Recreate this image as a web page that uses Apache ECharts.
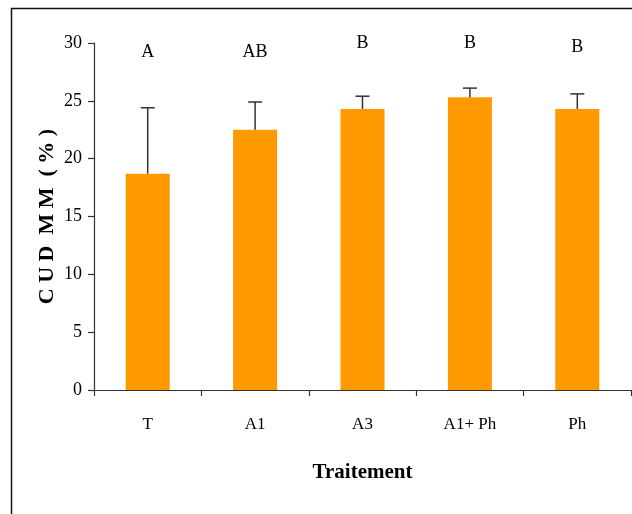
<!DOCTYPE html>
<html>
<head>
<meta charset="utf-8">
<script src="https://cdn.jsdelivr.net/npm/echarts@6/dist/echarts.min.js"></script>
<style>html,body{margin:0;padding:0;background:#fff;}#c{width:632px;height:514px;}</style>
</head>
<body>
<div id="c"></div>
<script>
const categories = ['T', 'A1', 'A3', 'A1+ Ph', 'Ph'];
const values = [18.7, 22.5, 24.3, 25.3, 24.3];
const errorTops = [24.4, 24.9, 25.4, 26.1, 25.6];
const letters = ['A', 'AB', 'B', 'B', 'B'];
const letterPos = [29.2, 29.2, 30.0, 30.0, 29.6];
const yTicks = [0, 5, 10, 15, 20, 25, 30];

const FONT = '"Liberation Serif", "Times New Roman", serif';
const chart = echarts.init(document.getElementById('c'), null, {renderer: 'canvas'});
chart.setOption({
  animation: false,
  backgroundColor: '#fff',
  graphic: [{
    type: 'rect', left: 9, top: 6, shape: {width: 700, height: 600},
    style: {fill: 'none', stroke: '#111', lineWidth: 1.5}, silent: true, z: -1
  }],
  grid: {left: 94, right: 1, top: 43, bottom: 124, containLabel: false},
  xAxis: {
    type: 'category',
    data: categories,
    name: 'Traitement',
    nameLocation: 'middle',
    nameGap: 72,
    nameTextStyle: {fontFamily: FONT, fontWeight: 'bold', fontSize: 21, color: '#000'},
    axisLine: {lineStyle: {color: '#333', width: 1.2}},
    axisTick: {show: true, length: 6, inside: false, alignWithLabel: false, lineStyle: {color: '#333', width: 1.2}},
    axisLabel: {fontFamily: FONT, fontSize: 17, color: '#000', margin: 26}
  },
  yAxis: {
    type: 'value',
    min: yTicks[0], max: yTicks[yTicks.length - 1], interval: 5,
    name: 'C U D  M M  ( % )',
    nameLocation: 'middle',
    nameGap: 36,
    nameMoveOverlap: false,
    nameTextStyle: {fontFamily: FONT, fontWeight: 'bold', fontSize: 22, color: '#000'},
    axisLine: {show: true, lineStyle: {color: '#333', width: 1.2}},
    axisTick: {show: true, length: 6, lineStyle: {color: '#333', width: 1.2}},
    axisLabel: {fontFamily: FONT, fontSize: 18, color: '#000', margin: 12},
    splitLine: {show: false}
  },
  series: [
    {
      type: 'bar',
      data: values,
      barWidth: 44,
      itemStyle: {color: '#FF9900'},
      z: 2
    },
    {
      type: 'custom',
      data: values.map((v, i) => [i, v, errorTops[i]]),
      renderItem: function (params, api) {
        const base = api.coord([api.value(0), api.value(1)]);
        const top = api.coord([api.value(0), api.value(2)]);
        const hw = 7;
        return {
          type: 'group',
          children: [
            {type: 'line', shape: {x1: base[0], y1: base[1], x2: top[0], y2: top[1]}, style: {stroke: '#333', lineWidth: 1.5}},
            {type: 'line', shape: {x1: top[0] - hw, y1: top[1], x2: top[0] + hw, y2: top[1]}, style: {stroke: '#333', lineWidth: 1.5}}
          ]
        };
      },
      z: 3
    },
    {
      type: 'custom',
      data: letters.map((l, i) => [i, letterPos[i]]),
      clip: false,
      renderItem: function (params, api) {
        const p = api.coord([api.value(0), api.value(1)]);
        return {
          type: 'text',
          x: p[0], y: p[1],
          style: {text: letters[params.dataIndex], fontFamily: FONT, fontSize: 18, fill: '#000', align: 'center', verticalAlign: 'middle'}
        };
      },
      z: 4
    }
  ]
});
</script>
</body>
</html>
